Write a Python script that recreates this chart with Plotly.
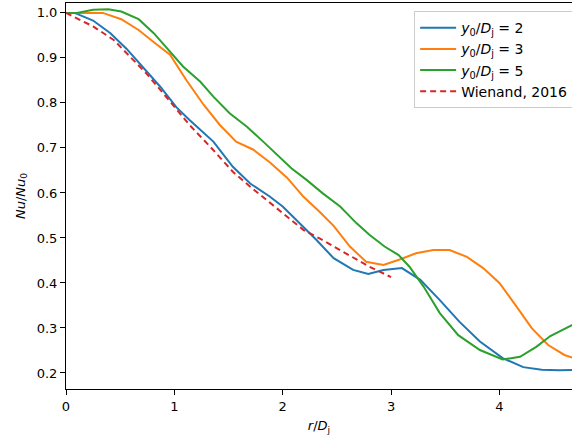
import plotly.graph_objects as go

# y0/Dj = 2
x_2 = [0, 0.08, 0.25, 0.41, 0.56, 0.71, 0.87, 1.02, 1.14, 1.36, 1.54, 1.70, 1.88, 2.0, 2.16, 2.31, 2.47,
       2.65, 2.79, 2.93, 3.1, 3.27, 3.45, 3.63, 3.82, 4.03, 4.22, 4.39, 4.55, 4.7]
y_2 = [1.0, 1.0, 0.983, 0.955, 0.92, 0.88, 0.836, 0.79, 0.762, 0.714, 0.658, 0.621, 0.592, 0.570, 0.533,
       0.496, 0.455, 0.429, 0.42, 0.429, 0.433, 0.407, 0.362, 0.314, 0.27, 0.233, 0.213, 0.207, 0.206, 0.207]

# y0/Dj = 3
x_3 = [0, 0.17, 0.34, 0.51, 0.67, 0.82, 0.96, 1.11, 1.27, 1.42, 1.57, 1.73, 1.88, 2.04, 2.19, 2.34, 2.47,
       2.62, 2.77, 2.93, 3.08, 3.23, 3.39, 3.54, 3.70, 3.85, 4.0, 4.16, 4.30, 4.45, 4.60, 4.7]
y_3 = [1.0, 1.0, 1.0, 0.986, 0.962, 0.933, 0.907, 0.851, 0.796, 0.751, 0.714, 0.696, 0.668, 0.634, 0.592,
       0.558, 0.527, 0.481, 0.447, 0.44, 0.452, 0.466, 0.473, 0.473, 0.458, 0.433, 0.40, 0.347, 0.299,
       0.262, 0.24, 0.232]

# y0/Dj = 5
x_5 = [0, 0.1, 0.25, 0.39, 0.51, 0.67, 0.81, 0.96, 1.08, 1.24, 1.36, 1.51, 1.67, 1.82, 1.97, 2.08, 2.22,
       2.37, 2.53, 2.68, 2.80, 2.94, 3.07, 3.17, 3.30, 3.45, 3.62, 3.82, 4.03, 4.19, 4.34, 4.47, 4.7]
y_5 = [1.0, 1.0, 1.007, 1.008, 1.003, 0.986, 0.955, 0.914, 0.881, 0.847, 0.814, 0.777, 0.747, 0.714,
       0.681, 0.655, 0.629, 0.599, 0.57, 0.533, 0.507, 0.481, 0.462, 0.436, 0.392, 0.333, 0.284, 0.251,
       0.23, 0.236, 0.258, 0.282, 0.31]

# Wienand, 2016
x_w = [0, 0.25, 0.44, 0.56, 0.74, 0.93, 1.14, 1.33, 1.54, 1.70, 1.85, 2.04, 2.19, 2.34, 2.50, 2.65, 2.80, 3.0]
y_w = [1.0, 0.97, 0.94, 0.91, 0.866, 0.812, 0.751, 0.703, 0.647, 0.614, 0.584, 0.547, 0.518, 0.499,
       0.477, 0.455, 0.436, 0.413]

y_ticks = [0.2, 0.3, 0.4, 0.5, 0.6, 0.7, 0.8, 0.9, 1.0]
x_ticks = [0, 1, 2, 3, 4]

FONT = "DejaVu Sans"

fig = go.Figure()
fig.add_trace(go.Scatter(x=x_2, y=y_2, mode="lines", name="<i>y</i><sub>0</sub>/<i>D</i><sub>j</sub> = 2",
                         line=dict(color="#1f77b4", width=2)))
fig.add_trace(go.Scatter(x=x_3, y=y_3, mode="lines", name="<i>y</i><sub>0</sub>/<i>D</i><sub>j</sub> = 3",
                         line=dict(color="#ff7f0e", width=2)))
fig.add_trace(go.Scatter(x=x_5, y=y_5, mode="lines", name="<i>y</i><sub>0</sub>/<i>D</i><sub>j</sub> = 5",
                         line=dict(color="#2ca02c", width=2)))
fig.add_trace(go.Scatter(x=x_w, y=y_w, mode="lines", name="Wienand, 2016",
                         line=dict(color="#d62728", width=2, dash="6px,4px")))

fig.update_layout(
    width=572, height=439,
    margin=dict(l=66, r=0, t=3, b=50, autoexpand=False),
    paper_bgcolor="white", plot_bgcolor="white",
    font=dict(family=FONT, size=13, color="black"),
    showlegend=True,
    legend=dict(x=0.688, y=0.979, xanchor="left", yanchor="top",
                bgcolor="rgba(255,255,255,0.8)", bordercolor="#cccccc", borderwidth=1,
                font=dict(family=FONT, size=14), itemwidth=36, tracegroupgap=0),
    xaxis=dict(range=[0, 4.67], tickvals=x_ticks, ticktext=[str(v) for v in x_ticks],
               showgrid=False, zeroline=False, showline=True, linecolor="black", linewidth=1,
               mirror=True, ticks="outside", ticklen=5, tickcolor="black",
               title=dict(text="<i>r</i>/<i>D</i><sub>j</sub>", standoff=8, font=dict(size=13))),
    yaxis=dict(range=[0.1644, 1.022], tickvals=y_ticks, ticktext=[f"{v:.1f}" for v in y_ticks],
               showgrid=False, zeroline=False, showline=True, linecolor="black", linewidth=1,
               ticks="outside", ticklen=5, tickcolor="black",
               title=dict(text="<i>Nu</i>/<i>Nu</i><sub>0</sub>", standoff=8, font=dict(size=13))),
)

fig.write_html("out.html", config={"displayModeBar": False},
               post_script="document.body.style.margin='0';document.body.style.padding='0';")
